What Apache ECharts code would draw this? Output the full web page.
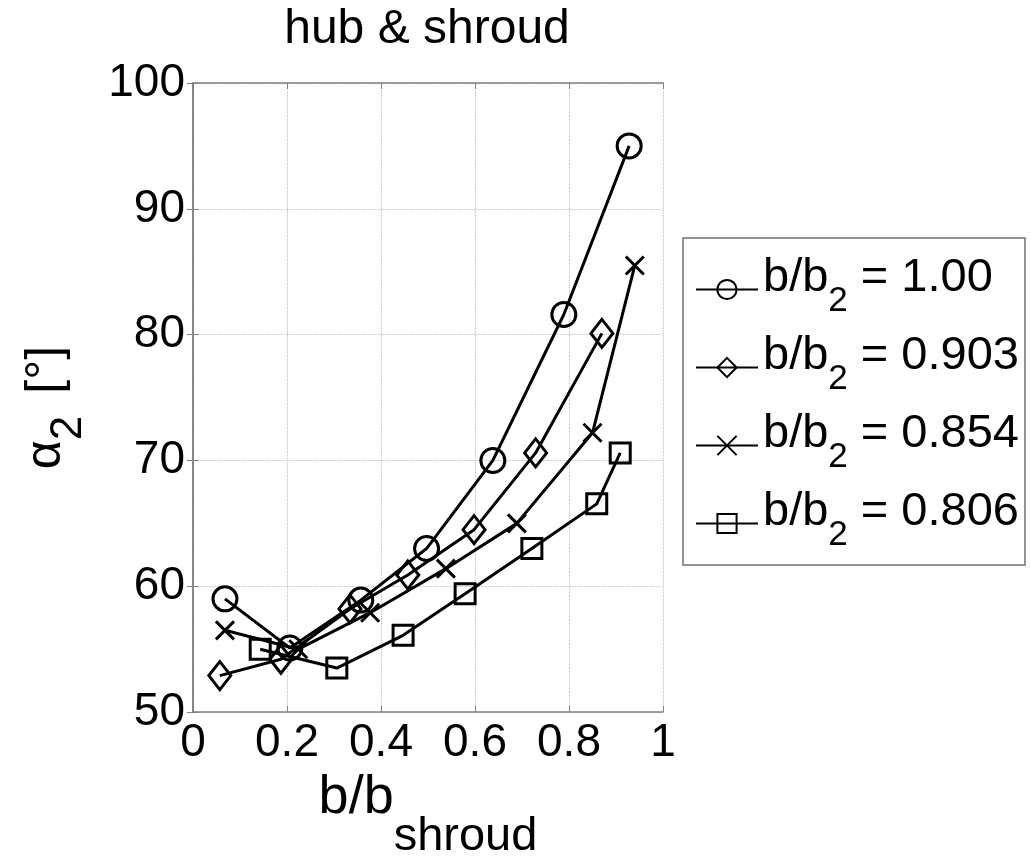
<!DOCTYPE html>
<html>
<head>
<meta charset="utf-8">
<script src="https://cdn.jsdelivr.net/npm/echarts@6/dist/echarts.min.js"></script>
<style>
  html, body { margin: 0; padding: 0; background: #fff; }
  #main { width: 1031px; height: 866px; }
</style>
</head>
<body>
<div id="main"></div>
<script>
// values
var seriesNames = ['1.00', '0.903', '0.854', '0.806'];
var xCircle  = [0.068, 0.206, 0.357, 0.497, 0.638, 0.789, 0.928];
var yCircle  = [59.0, 55.1, 58.9, 63.0, 70.0, 81.6, 95.0];
var xDiamond = [0.057, 0.187, 0.334, 0.457, 0.598, 0.729, 0.870];
var yDiamond = [52.9, 54.2, 58.2, 60.9, 64.5, 70.6, 80.1];
var xCross   = [0.068, 0.224, 0.377, 0.538, 0.689, 0.850, 0.940];
var yCross   = [56.5, 55.0, 57.9, 61.4, 65.0, 72.2, 85.5];
var xSquare  = [0.143, 0.306, 0.447, 0.579, 0.721, 0.859, 0.909];
var ySquare  = [55.0, 53.5, 56.1, 59.4, 63.0, 66.55, 70.6];

function pairs(xs, ys) {
    var out = [];
    for (var i = 0; i < xs.length; i++) out.push([xs[i], ys[i]]);
    return out;
}

var FONT = 'Liberation Sans, Arial, sans-serif';
var chart = echarts.init(document.getElementById('main'));

function lineSeries(name, data, symbol, size) {
    return {
        name: name,
        type: 'line',
        data: data,
        symbol: symbol,
        symbolSize: size,
        showAllSymbol: true,
        animation: false,
        lineStyle: { color: '#000', width: 3 },
        itemStyle: { color: 'rgba(0,0,0,0)', borderColor: '#000', borderWidth: 3 },
        emphasis: { disabled: true }
    };
}

var boxAxis = { lineStyle: { color: '#808080', width: 1.5 } };

option = {
    backgroundColor: '#fff',
    title: {
        text: 'hub & shroud',
        left: 422,
        top: 1,
        textAlign: 'center',
        textStyle: { fontFamily: FONT, fontSize: 48, fontWeight: 'normal', color: '#000' }
    },
    grid: { left: 193, right: 368, top: 83, bottom: 148, containLabel: false },
    legend: {
        orient: 'vertical',
        left: 683,
        top: 238,
        padding: [17, 6, 12, 12],
        itemWidth: 62,
        itemHeight: 24,
        itemGap: 14,
        itemTextGap: 6,
        borderColor: '#707070',
        borderWidth: 1.5,
        selectedMode: false,
        data: ['b/b2 = 1.00', 'b/b2 = 0.903', 'b/b2 = 0.854', 'b/b2 = 0.806'],
        formatter: function (n) {
            return '{m|b/b}{s|2}{m| = ' + n.split('= ')[1] + '}';
        },
        textStyle: {
            fontFamily: FONT,
            padding: [0, 0, 22, 0],
            rich: {
                m: { fontFamily: FONT, fontSize: 47, lineHeight: 47, verticalAlign: 'top', color: '#000' },
                s: { fontFamily: FONT, fontSize: 35, lineHeight: 35, verticalAlign: 'top', padding: [29, 0, 0, 0], color: '#000' }
            }
        }
    },
    xAxis: [{
        type: 'value',
        min: 0, max: 1, interval: 0.2,
        name: '{m|b/b}{s|shroud}',
        nameLocation: 'middle',
        nameGap: 51,
        nameTextStyle: {
            rich: {
                m: { fontFamily: FONT, fontSize: 54, lineHeight: 54, verticalAlign: 'top', color: '#000' },
                s: { fontFamily: FONT, fontSize: 47, lineHeight: 47, verticalAlign: 'top', padding: [43, 0, 0, 0], color: '#000' }
            }
        },
        axisLine: boxAxis,
        axisTick: { inside: true, length: 6, lineStyle: { color: '#808080' } },
        axisLabel: { fontFamily: FONT, fontSize: 46, color: '#000', margin: 8,
            formatter: function (v) { return String(Math.round(v * 10) / 10); } },
        splitLine: { show: true, lineStyle: { type: 'dotted', color: '#c0c0c0', width: 1.2 } }
    }, {
        type: 'value', position: 'top',
        min: 0, max: 1, interval: 0.2,
        axisLine: boxAxis,
        axisTick: { inside: true, length: 6, lineStyle: { color: '#808080' } },
        axisLabel: { show: false },
        splitLine: { show: false }
    }],
    yAxis: [{
        type: 'value',
        min: 50, max: 100, interval: 10,
        name: '{m|α}{s|2}{b|[°]}',
        nameLocation: 'middle',
        nameRotate: 90,
        nameGap: 122,
        nameTextStyle: {
            padding: [0, 20, 0, 0],
            rich: {
                m: { fontFamily: FONT, fontSize: 50, lineHeight: 50, verticalAlign: 'top', color: '#000' },
                s: { fontFamily: FONT, fontSize: 44, lineHeight: 44, verticalAlign: 'top', padding: [26, 0, 0, 0], color: '#000' },
                b: { fontFamily: FONT, fontSize: 50, lineHeight: 50, verticalAlign: 'top', padding: [0, 0, 0, 22], color: '#000' }
            }
        },
        axisLine: boxAxis,
        axisTick: { inside: true, length: 6, lineStyle: { color: '#808080' } },
        axisLabel: { fontFamily: FONT, fontSize: 46, color: '#000', margin: 8 },
        splitLine: { show: true, lineStyle: { type: 'dotted', color: '#c0c0c0', width: 1.2 } }
    }, {
        type: 'value', position: 'right',
        min: 50, max: 100, interval: 10,
        axisLine: boxAxis,
        axisTick: { inside: true, length: 6, lineStyle: { color: '#808080' } },
        axisLabel: { show: false },
        splitLine: { show: false }
    }],
    series: [
        lineSeries('b/b2 = ' + seriesNames[0], pairs(xCircle, yCircle), 'circle', 24),
        lineSeries('b/b2 = ' + seriesNames[1], pairs(xDiamond, yDiamond), 'diamond', [22, 28]),
        lineSeries('b/b2 = ' + seriesNames[2], pairs(xCross, yCross), 'path://M0,0L10,10M10,0L0,10', 18),
        lineSeries('b/b2 = ' + seriesNames[3], pairs(xSquare, ySquare), 'rect', 20)
    ]
};
chart.setOption(option);
</script>
</body>
</html>
